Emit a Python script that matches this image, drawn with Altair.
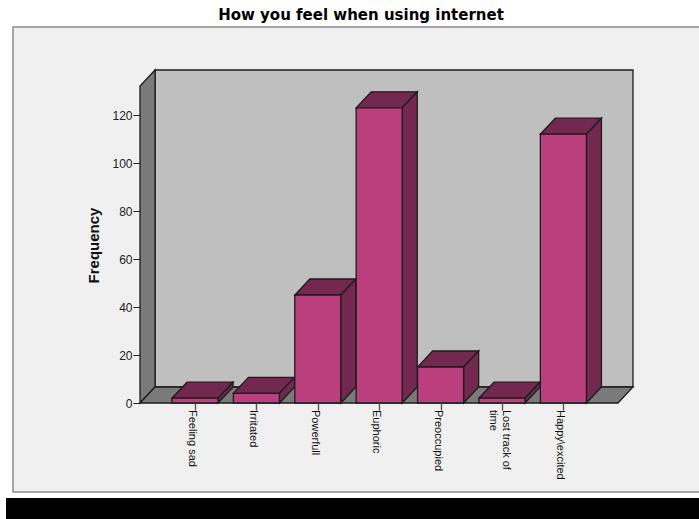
import altair as alt
import pandas as pd

categories = ["Feeling sad", "Irritated", "Powerfull", "Euphoric", "Preoccupied", "Lost track of\ntime", "Happy\\excited"]
frequencies = [2, 4, 45, 123, 15, 2, 112]
y_ticks = [0, 20, 40, 60, 80, 100, 120]
chart_title = "How you feel when using internet"

# Box geometry in axis units: x is category slots, y is frequency
HALF = 0.375
DEPTH_X = 0.245
DEPTH_Y = 6.67
FLOOR_L = -0.896
FLOOR_R = 6.889
WALL_TOP = 132.08
X_DOMAIN = [FLOOR_L, FLOOR_R + DEPTH_X]
Y_DOMAIN = [0, WALL_TOP + DEPTH_Y]

FRONT = "#BB3F7D"
SHADE = "#72284F"
WALL = "#BFBFBF"
SIDE = "#7A7A7A"
EDGE = "#1C1C1C"

x_scale = alt.Scale(domain=X_DOMAIN, nice=False, zero=False)
y_scale = alt.Scale(domain=Y_DOMAIN, nice=False)


def polygon(name, rows):
    return [{"face": name, "x": x, "lo": lo, "hi": hi} for x, lo, hi in rows]


def area_layer(rows, color):
    return alt.Chart(pd.DataFrame(rows)).mark_area(
        color=color, stroke=EDGE, strokeWidth=1.3, interpolate="linear", opacity=1
    ).encode(
        x=alt.X("x:Q", scale=x_scale),
        y=alt.Y("lo:Q", scale=y_scale),
        y2="hi:Q",
        detail="face:N",
    )


back_wall = polygon("back", [
    (FLOOR_L + DEPTH_X, DEPTH_Y, Y_DOMAIN[1]),
    (FLOOR_R + DEPTH_X, DEPTH_Y, Y_DOMAIN[1]),
])
left_wall = polygon("left", [
    (FLOOR_L, 0, WALL_TOP),
    (FLOOR_L + DEPTH_X, DEPTH_Y, Y_DOMAIN[1]),
])
floor = polygon("floor", [
    (FLOOR_L, 0, 0),
    (FLOOR_L + DEPTH_X, 0, DEPTH_Y),
    (FLOOR_R, 0, DEPTH_Y),
    (FLOOR_R + DEPTH_X, DEPTH_Y, DEPTH_Y),
])

# Top and side faces of every bar
shade_rows = []
front_rows = []
for i, v in enumerate(frequencies):
    a, b = i - HALF, i + HALF
    shade_rows += polygon(f"top{i}", [
        (a, v, v),
        (a + DEPTH_X, v, v + DEPTH_Y),
        (b, v, v + DEPTH_Y),
        (b + DEPTH_X, v + DEPTH_Y, v + DEPTH_Y),
    ])
    shade_rows += polygon(f"side{i}", [
        (b, 0, v),
        (b + DEPTH_X, DEPTH_Y, v + DEPTH_Y),
    ])
    front_rows.append({"a": a, "b": b, "v": v})

panel = alt.Chart(alt.Data(values=[{}])).mark_rect(
    fill="#F0F0F0", stroke="#8A8A8A", strokeWidth=1.5
).encode(x=alt.value(-127), x2=alt.value(562), y=alt.value(-43), y2=alt.value(422))

strip = alt.Chart(alt.Data(values=[{}])).mark_rect(fill="#000000").encode(
    x=alt.value(-134), x2=alt.value(559), y=alt.value(428), y2=alt.value(449)
)

title_mark = alt.Chart(alt.Data(values=[{"t": chart_title}])).mark_text(
    font="DejaVu Sans", fontSize=15, fontWeight="bold", color="#000000", align="center", baseline="middle"
).encode(x=alt.value(221), y=alt.value(-55), text="t:N")

axes = alt.Chart(pd.DataFrame({"x": [0.0], "y": [0.0]})).mark_point(opacity=0).encode(
    x=alt.X("x:Q", scale=x_scale, axis=alt.Axis(
        values=list(range(len(categories))), labels=False,
        tickColor="#555555", tickWidth=1.4, tickSize=7,
        domain=False, grid=False, title=None, zindex=1,
    )),
    y=alt.Y("y:Q", scale=y_scale, axis=alt.Axis(
        values=y_ticks,
        labelFont="Liberation Sans", labelFontSize=12, labelColor="#222222", labelPadding=1,
        tickColor="#222222", tickWidth=1, tickSize=7,
        domain=False, grid=False, zindex=1,
        title="Frequency", titleFont="Liberation Sans", titleFontSize=15, titleFontWeight="bold",
        titleColor="#111111", titleX=-39, titleY=175, titleAngle=270,
    )),
)

label_table = pd.DataFrame({
    "pos": list(range(len(categories))),
    "name": categories,
    "base": [0] * len(categories),
    "wrapped": ["\n" in c for c in categories],
})


def label_layer(rows, shift):
    # Category names run downwards, set beside their ticks
    return alt.Chart(rows).mark_text(
        font="Liberation Sans", fontSize=11, color="#111111", angle=90, align="left", baseline="middle",
        lineBreak="\n", lineHeight=13, dx=7, dy=shift,
    ).encode(
        x=alt.X("pos:Q", scale=x_scale),
        y=alt.Y("base:Q", scale=y_scale),
        text="name:N",
    )


single_labels = label_layer(label_table[~label_table["wrapped"]], 3)
wrapped_labels = label_layer(label_table[label_table["wrapped"]], -4)

fronts = alt.Chart(pd.DataFrame(front_rows)).mark_bar(
    color=FRONT, stroke=EDGE, strokeWidth=1.3
).encode(
    x=alt.X("a:Q", scale=x_scale),
    x2="b:Q",
    y=alt.Y("v:Q", scale=y_scale),
    y2=alt.datum(0),
)

chart = alt.layer(
    panel, strip,
    area_layer(back_wall, WALL),
    area_layer(left_wall, SIDE),
    area_layer(floor, SIDE),
    area_layer(shade_rows, SHADE),
    fronts,
    axes,
    single_labels,
    wrapped_labels,
    title_mark,
).properties(
    width=493, height=333,
    autosize=alt.AutoSizeParams(type="none"),
    padding={"left": 140, "top": 70, "right": 66, "bottom": 116},
    background="#FFFFFF",
).configure_view(stroke=None)

chart.save("out.html", embed_options={"renderer": "svg", "actions": False})
